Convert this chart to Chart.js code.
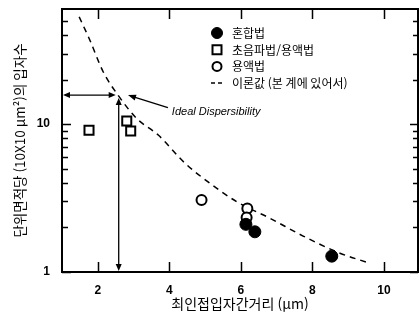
<!DOCTYPE html>
<html lang="ko">
<head>
<meta charset="utf-8">
<title>최인접입자간거리와 입자수</title>
<script src="https://cdn.jsdelivr.net/npm/chart.js@4/dist/chart.umd.min.js"></script>
<style>
  html, body { margin: 0; padding: 0; background: #fff; }
  #wrap { width: 419px; height: 320px; }
</style>
</head>
<body>
<div id="wrap"><canvas id="chart" width="419" height="320"></canvas></div>
<script>
// 혼합법 (filled circles)
const mixedX = [6.14, 6.39, 8.54];
const mixedY = [2.10, 1.87, 1.28];

// 초음파법/용액법 (open squares)
const ultraX = [1.755, 2.81, 2.92];
const ultraY = [9.1, 10.5, 8.97];

// 용액법 (open circles)
const solutionX = [4.90, 6.18, 6.16];
const solutionY = [3.07, 2.69, 2.34];

// 이론값 (dashed curve)
const theoryX = [1.48, 1.78, 2.15, 2.565, 3.09, 3.69, 4.44, 4.95, 5.88, 6.81, 7.74, 8.77, 9.61];
const theoryY = [53.1, 36.9, 22.6, 15.7, 10.9, 8.43, 5.43, 4.30, 2.99, 2.31, 1.75, 1.34, 1.145];

// axis ticks
const xTicks = [2, 4, 6, 8, 10];
const yTicks = [1, 2, 3, 4, 5, 6, 7, 8, 9, 10, 20, 30, 40, 50];
const yLabelled = [1, 10];

// ideal dispersibility guide
const idealPoint = { x: 2.585, y: 15.7 };
const pointerTail = { x: 3.96, y: 12.9 };
const pointerTip = { x: 2.845, y: 15.7 };
const idealLabel = { x: 4.07, y: 12.1, text: 'Ideal Dispersibility' };

const KR = '"Noto Sans CJK KR", "Noto Sans", sans-serif';
const LAT = '"Liberation Sans", Arial, sans-serif';

const toPoints = (xs, ys) => xs.map((v, i) => ({ x: v, y: ys[i] }));

const datasets = [
  { label: '혼합법', data: toPoints(mixedX, mixedY), pointStyle: 'circle', pointRadius: 6,
    backgroundColor: '#000', borderColor: '#000', borderWidth: 1, order: 0 },
  { label: '초음파법/용액법', data: toPoints(ultraX, ultraY), pointStyle: 'rect', pointRadius: 6.4,
    backgroundColor: '#fff', borderColor: '#000', borderWidth: 2, order: 1 },
  { label: '용액법', data: toPoints(solutionX, solutionY), pointStyle: 'circle', pointRadius: 5,
    backgroundColor: '#fff', borderColor: '#000', borderWidth: 2, order: 2 },
  { label: '이론값 (본 계에 있어서)', data: toPoints(theoryX, theoryY), showLine: true, pointRadius: 0,
    borderColor: '#000', borderWidth: 1.5, borderDash: [6, 5], cubicInterpolationMode: 'monotone',
    fill: false, order: 3 }
];

function arrowHead(ctx, x, y, angle, len, half) {
  ctx.save();
  ctx.translate(x, y);
  ctx.rotate(angle);
  ctx.beginPath();
  ctx.moveTo(0, 0);
  ctx.lineTo(-len, -half);
  ctx.lineTo(-len, half);
  ctx.closePath();
  ctx.fill();
  ctx.restore();
}

// plot frame with inward ticks on all four sides
const framePlugin = {
  id: 'frame',
  afterDatasetsDraw(chart) {
    const { ctx, chartArea: a, scales: { x, y } } = chart;
    ctx.save();
    ctx.strokeStyle = '#000';
    ctx.lineWidth = 2;
    ctx.strokeRect(a.left, a.top, a.right - a.left, a.bottom - a.top);
    ctx.lineWidth = 1.5;
    ctx.beginPath();
    xTicks.forEach(v => {
      const px = Math.round(x.getPixelForValue(v)) + 0.5;
      ctx.moveTo(px, a.bottom); ctx.lineTo(px, a.bottom - 10);
      ctx.moveTo(px, a.top); ctx.lineTo(px, a.top + 10);
    });
    yTicks.forEach(v => {
      const py = Math.round(y.getPixelForValue(v)) + 0.5;
      const len = yLabelled.includes(v) ? 9 : 6;
      ctx.moveTo(a.left, py); ctx.lineTo(a.left + len, py);
      ctx.moveTo(a.right, py); ctx.lineTo(a.right - len + 1, py);
    });
    ctx.stroke();
    ctx.restore();
  }
};

// ideal-dispersibility arrows and label
const guidePlugin = {
  id: 'guide',
  afterDatasetsDraw(chart) {
    const { ctx, chartArea: a, scales: { x, y } } = chart;
    const ix = x.getPixelForValue(idealPoint.x);
    const iy = y.getPixelForValue(idealPoint.y);
    ctx.save();
    ctx.strokeStyle = '#000';
    ctx.fillStyle = '#000';
    ctx.lineWidth = 1.3;
    // horizontal double arrow
    const hx0 = a.left + 1, hx1 = ix - 3;
    ctx.beginPath(); ctx.moveTo(hx0 + 4, iy); ctx.lineTo(hx1 - 4, iy); ctx.stroke();
    arrowHead(ctx, hx0, iy, Math.PI, 7, 3);
    arrowHead(ctx, hx1, iy, 0, 7, 3);
    // vertical double arrow
    const vy0 = iy + 3, vy1 = a.bottom - 1;
    ctx.beginPath(); ctx.moveTo(ix, vy0 + 4); ctx.lineTo(ix, vy1 - 4); ctx.stroke();
    arrowHead(ctx, ix, vy0, -Math.PI / 2, 7, 3);
    arrowHead(ctx, ix, vy1, Math.PI / 2, 7, 3);
    // pointer from label to curve
    const tx = x.getPixelForValue(pointerTail.x), ty = y.getPixelForValue(pointerTail.y);
    const px = x.getPixelForValue(pointerTip.x), py = y.getPixelForValue(pointerTip.y);
    const ang = Math.atan2(py - ty, px - tx);
    ctx.beginPath(); ctx.moveTo(tx, ty); ctx.lineTo(px - 5 * Math.cos(ang), py - 5 * Math.sin(ang)); ctx.stroke();
    arrowHead(ctx, px, py, ang, 8, 3);
    // label
    ctx.font = 'italic 11px ' + LAT;
    ctx.textBaseline = 'middle';
    ctx.textAlign = 'left';
    ctx.fillText(idealLabel.text, x.getPixelForValue(idealLabel.x), y.getPixelForValue(idealLabel.y));
    ctx.restore();
  }
};

// legend drawn inside the plot area, top right
const legendPlugin = {
  id: 'insideLegend',
  afterDatasetsDraw(chart) {
    const { ctx, chartArea: a } = chart;
    const mx = a.left + 155, tx = a.left + 170;
    let ry = a.top + 24;
    const step = 16.7;
    ctx.save();
    ctx.font = '12px ' + KR;
    ctx.textBaseline = 'middle';
    ctx.textAlign = 'left';
    ctx.fillStyle = '#000';
    ctx.strokeStyle = '#000';
    chart.data.datasets.forEach(ds => {
      ctx.save();
      if (ds.showLine) {
        ctx.lineWidth = 1.5;
        ctx.setLineDash([4, 3]);
        ctx.beginPath(); ctx.moveTo(mx - 6, ry); ctx.lineTo(mx + 6, ry); ctx.stroke();
      } else {
        ctx.lineWidth = ds.borderWidth;
        ctx.fillStyle = ds.backgroundColor;
        ctx.beginPath();
        if (ds.pointStyle === 'rect') {
          ctx.rect(mx - 4.5, ry - 4.5, 9, 9);
        } else {
          ctx.arc(mx, ry, ds.backgroundColor === '#000' ? 5.5 : 4.5, 0, Math.PI * 2);
        }
        ctx.fill(); ctx.stroke();
      }
      ctx.restore();
      ctx.fillText(ds.label, tx, ry + 0.5);
      ry += step;
    });
    ctx.restore();
  }
};

new Chart(document.getElementById('chart'), {
  type: 'scatter',
  data: { datasets },
  options: {
    responsive: false,
    animation: false,
    devicePixelRatio: 1,
    layout: { autoPadding: false, padding: { top: 9, right: 1, left: 0, bottom: 0 } },
    plugins: { legend: { display: false }, tooltip: { enabled: false } },
    scales: {
      x: {
        type: 'linear', min: 1, max: 10.95,
        afterBuildTicks: s => { s.ticks = xTicks.map(v => ({ value: v })); },
        afterFit: s => { s.height = 48; s.paddingLeft = 0; s.paddingRight = 0; },
        grid: { display: false, drawTicks: false },
        border: { display: false },
        ticks: { padding: 11, autoSkip: false, maxRotation: 0, color: '#000',
                 font: { family: LAT, size: 12, weight: 'bold' } },
        title: { display: true, text: '최인접입자간거리 (μm)', color: '#000',
                 font: { family: KR, size: 14 }, padding: { top: 0, bottom: 8 } }
      },
      y: {
        type: 'logarithmic', min: 1, max: 60,
        afterBuildTicks: s => { s.ticks = yTicks.map(v => ({ value: v, major: yLabelled.includes(v) })); },
        afterFit: s => { s.width = 62; s.paddingTop = 0; s.paddingBottom = 0; },
        grid: { display: false, drawTicks: false },
        border: { display: false },
        ticks: { padding: 12, autoSkip: false, color: '#000',
                 font: { family: LAT, size: 12, weight: 'bold' },
                 callback: v => (yLabelled.includes(v) ? String(v) : '') },
        title: { display: true, text: '단위면적당 (10X10 μm²)의 입자수', color: '#000',
                 font: { family: KR, size: 13.5 }, padding: { top: 12, bottom: 0 } }
      }
    }
  },
  plugins: [framePlugin, guidePlugin, legendPlugin]
});
</script>
</body>
</html>
